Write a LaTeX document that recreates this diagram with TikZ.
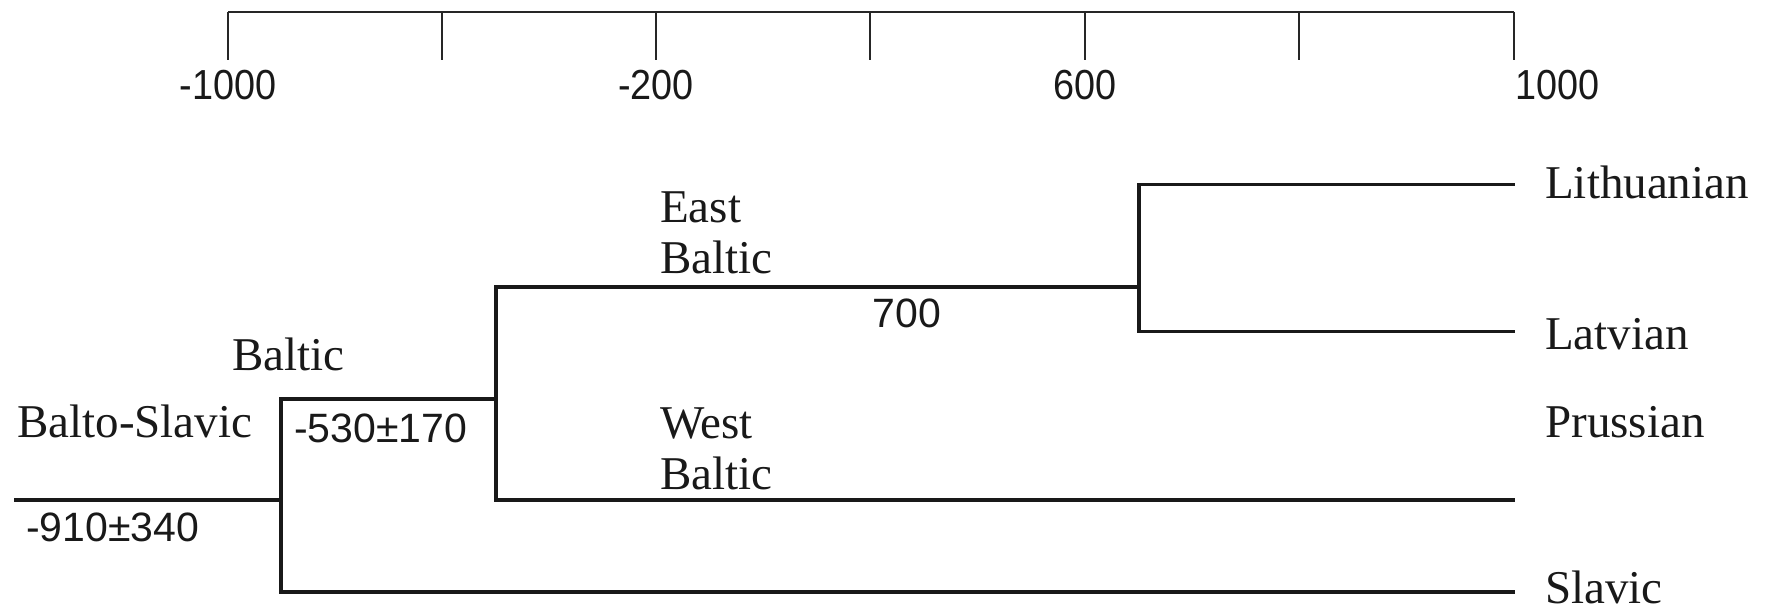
\documentclass[tikz,border=0pt]{standalone}
\usepackage{fontspec}
\setmainfont{Liberation Serif}
\newfontfamily\axisfont[FakeStretch=0.9]{Liberation Sans}
\newfontfamily\numfont{Liberation Sans}
\begin{document}
\begin{tikzpicture}[x=1pt,y=-1pt,
  axisline/.style={line width=2pt,draw=black!85},
  tickline/.style={line width=1.6pt,draw=black!85},
  branch/.style={line width=3.6pt,draw=black!90,line cap=rect},
  axislab/.style={inner sep=0pt,font=\axisfont\fontsize{42}{46}\selectfont,text=black!90},
  numlab/.style={inner sep=0pt,font=\numfont\fontsize{41}{45}\selectfont,text=black!90},
  namelab/.style={inner sep=0pt,anchor=base west,font=\fontsize{47}{52}\selectfont,text=black!90}]
\useasboundingbox (0,0) rectangle (1785,612);
% axis
\coordinate (t1) at (228,12);
\coordinate (t2) at (442,12);
\coordinate (t3) at (656,12);
\coordinate (t4) at (870,12);
\coordinate (t5) at (1085,12);
\coordinate (t6) at (1299,12);
\coordinate (t7) at (1514,12);
\draw[axisline] (t1) -- (t7);
\foreach \t in {t1,t2,t3,t4,t5,t6,t7}{\draw[tickline] (\t) -- ++(0,48);}
\node[axislab,anchor=base] (a1) at (228,100) {-1000};
\node[axislab,anchor=base] (a3) at (656,100) {-200};
\node[axislab,anchor=base] (a5) at (1085,100) {600};
\node[axislab,anchor=base west] (a7) at (1515,100) {1000};
% tree
\coordinate (r0) at (16,500);
\coordinate (bs) at (281,500);
\coordinate (b) at (496,399);
\coordinate (eb) at (1139,287);
\coordinate (lit) at (1513,184.5);
\coordinate (lat) at (1513,331.5);
\coordinate (pru) at (1513,500);
\coordinate (sla) at (1513,592);
\draw[branch] (r0) -- (bs);
\draw[branch] (bs) |- (b);
\draw[branch] (bs) |- (sla);
\draw[branch] (b) |- (eb);
\draw[branch] (b) |- (pru);
\draw[branch] (eb) |- (lit);
\draw[branch] (eb) |- (lat);
% labels
\node[namelab] (lbs) at (17,437) {Balto-Slavic};
\node[namelab] (lb) at (232,370) {Baltic};
\node[numlab,anchor=base west] (n530) at (294,442) {-530±170};
\node[numlab,anchor=base west] (n910) at (26,541) {-910±340};
\node[namelab] (le1) at (660,223) {East};
\node[namelab] (le2) at (660,274) {Baltic};
\node[numlab,anchor=base] (n700) at (907,327) {700};
\node[namelab] (lw1) at (660,438) {West};
\node[namelab] (lw2) at (660,489) {Baltic};
\node[namelab] (llit) at (1545,199) {Lithuanian};
\node[namelab] (llat) at (1545,349) {Latvian};
\node[namelab] (lpru) at (1545,437) {Prussian};
\node[namelab] (lsla) at (1545,603) {Slavic};
\end{tikzpicture}
\end{document}
